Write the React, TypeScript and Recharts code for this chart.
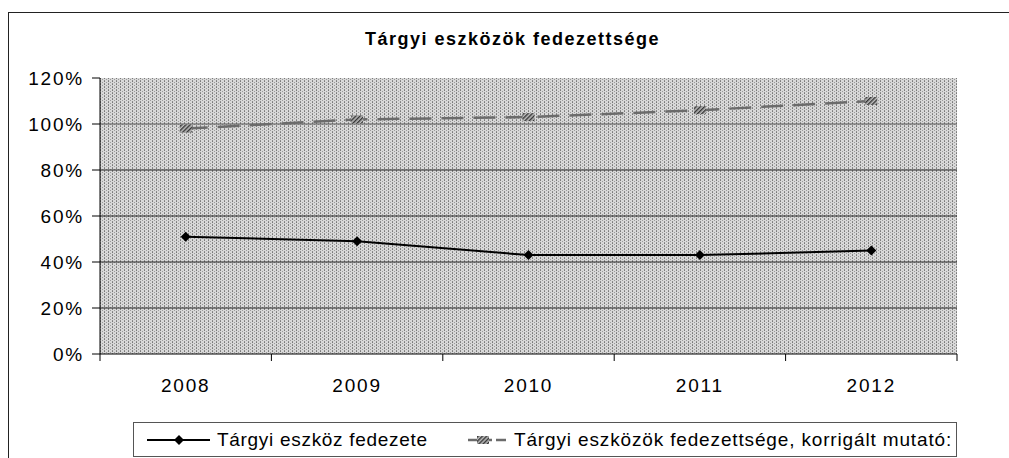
import { LineChart, Line, XAxis, YAxis, CartesianGrid, ReferenceLine } from "recharts";

const years = ["2008", "2009", "2010", "2011", "2012"];
const fedezete = [51, 49, 43, 43, 45];
const korrigalt = [98, 102, 103, 106, 110];
const yTicks = [0, 20, 40, 60, 80, 100, 120];
const gridValues = [20, 40, 60, 80, 100];

const title = "Tárgyi eszközök fedezettsége";
const nameFedezete = "Tárgyi eszköz fedezete";
const nameKorrigalt = "Tárgyi eszközök fedezettsége, korrigált mutató:";

const W = 1009;
const H = 458;
const margin = { top: 78, right: 52, left: 8, bottom: 64 };
const Y_AXIS_W = 92;
const PLOT_W = W - margin.left - margin.right - Y_AXIS_W;
const HALF_BAND = PLOT_W / years.length / 2;
const FONT = "'Liberation Sans', Arial, sans-serif";

const data = years.map((year, i) => ({
  pos: i + 0.5,
  year,
  fedezete: fedezete[i],
  korrigalt: korrigalt[i],
}));

function Diamond({ cx, cy, size = 5 }: { cx: number; cy: number; size?: number }) {
  return (
    <polygon
      points={`${cx},${cy - size} ${cx + size},${cy} ${cx},${cy + size} ${cx - size},${cy}`}
      fill="#000"
    />
  );
}

function HatchSquare({ cx, cy }: { cx: number; cy: number }) {
  return <rect x={cx - 6} y={cy - 4} width={12} height={8} fill="url(#hatch)" />;
}

function YearTick(props: any) {
  const { x, y, payload } = props;
  const label = years[payload.value];
  if (label === undefined) return <g />;
  return (
    <text
      x={x + HALF_BAND}
      y={y + 29}
      textAnchor="middle"
      fontSize={19}
      letterSpacing={1.8}
      fontFamily={FONT}
      fill="#000"
    >
      {label}
    </text>
  );
}

export default function App() {
  return (
    <div
      style={{
        position: "fixed",
        left: 0,
        top: 0,
        width: W,
        height: H,
        background: "#fff",
        overflow: "hidden",
        fontFamily: FONT,
      }}
    >
      {/* outer frame: only top and left edges are visible */}
      <div
        style={{
          position: "absolute",
          left: 8,
          top: 12,
          width: W,
          height: H,
          borderTop: "1px solid #222",
          borderLeft: "1px solid #222",
        }}
      />
      <div
        style={{
          position: "absolute",
          top: 30,
          left: 0,
          width: W,
          paddingLeft: 16,
          boxSizing: "border-box",
          textAlign: "center",
          fontSize: 18,
          lineHeight: "18px",
          fontWeight: "bold",
          letterSpacing: 1.5,
        }}
      >
        {title}
      </div>
      <div style={{ position: "absolute", left: 0, top: 0 }}>
        <LineChart width={W} height={H} data={data} margin={margin}>
          <defs>
            <pattern id="plotDots" width={4} height={3} patternUnits="userSpaceOnUse">
              <rect width={4} height={3} fill="#d8d8d8" />
              <rect x={0} y={0} width={1} height={1} fill="#7a7a7a" />
              <rect x={0} y={2} width={1} height={1} fill="#8c8c8c" />
              <rect x={2} y={1} width={1} height={1} fill="#9a9a9a" />
            </pattern>
            <pattern id="hatch" width={3} height={3} patternUnits="userSpaceOnUse" patternTransform="rotate(45)">
              <rect width={3} height={3} fill="#bdbdbd" />
              <rect width={1.4} height={3} fill="#333" />
            </pattern>
          </defs>
          <CartesianGrid horizontal={false} vertical={false} fill="url(#plotDots)" fillOpacity={1} />
          {gridValues.map((v) => (
            <ReferenceLine key={v} y={v} stroke={v === 100 ? "#555" : "#222"} strokeWidth={1} ifOverflow="extendDomain" />
          ))}
          <XAxis
            dataKey="pos"
            type="number"
            domain={[0, years.length]}
            ticks={[0, 1, 2, 3, 4, 5]}
            height={40}
            stroke="#000"
            tickSize={7}
            tickLine={{ stroke: "#000" }}
            axisLine={{ stroke: "#000" }}
            tick={(p: any) => <YearTick {...p} />}
            interval={0}
          />
          <YAxis
            domain={[0, 120]}
            ticks={yTicks}
            width={Y_AXIS_W}
            tickSize={8}
            tickMargin={8}
            stroke="#000"
            axisLine={{ stroke: "#000" }}
            tickFormatter={(v) => `${v}%`}
            tick={{ fontSize: 19, fill: "#000", fontFamily: FONT, letterSpacing: 1.8 }}
            interval={0}
          />
          <Line
            dataKey="korrigalt"
            stroke="#6b6b6b"
            strokeWidth={2.5}
            strokeDasharray="22 10"
            isAnimationActive={false}
            dot={(p: any) => <HatchSquare key={`k-${p.index}`} cx={p.cx} cy={p.cy} />}
            activeDot={false}
          />
          <Line
            dataKey="fedezete"
            stroke="#000"
            strokeWidth={2}
            isAnimationActive={false}
            dot={(p: any) => <Diamond key={`f-${p.index}`} cx={p.cx} cy={p.cy} />}
            activeDot={false}
          />
        </LineChart>
      </div>
      {/* legend */}
      <div
        style={{
          position: "absolute",
          left: 133,
          top: 422,
          width: 824,
          height: 35,
          border: "1px solid #555",
          boxSizing: "border-box",
          background: "#fff",
        }}
      >
        <svg width={822} height={33} style={{ display: "block" }}>
          <defs>
            <pattern id="hatchLegend" width={3} height={3} patternUnits="userSpaceOnUse" patternTransform="rotate(45)">
              <rect width={3} height={3} fill="#bdbdbd" />
              <rect width={1.4} height={3} fill="#333" />
            </pattern>
          </defs>
          <line x1={13} y1={17} x2={76} y2={17} stroke="#000" strokeWidth={2} />
          <Diamond cx={45} cy={17} />
          <text x={83} y={23} fontSize={19} letterSpacing={0.7} fontFamily={FONT} fill="#000">
            {nameFedezete}
          </text>
          <line x1={334} y1={17} x2={374} y2={17} stroke="#6b6b6b" strokeWidth={2.5} strokeDasharray="10 4" />
          <rect x={343} y={13} width={12} height={8} fill="url(#hatchLegend)" />
          <text x={380} y={23} fontSize={19} letterSpacing={0.85} fontFamily={FONT} fill="#000">
            {nameKorrigalt}
          </text>
        </svg>
      </div>
    </div>
  );
}
